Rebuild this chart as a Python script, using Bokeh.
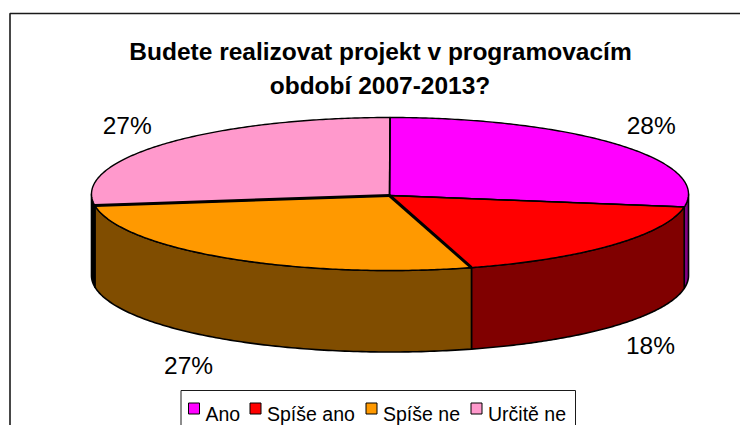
import numpy as np
from bokeh.core.properties import value
from bokeh.embed import file_html
from bokeh.models import ColumnDataSource, Range1d
from bokeh.plotting import figure
from bokeh.resources import INLINE

title_lines = ["Budete realizovat projekt v programovacím", "období 2007-2013?"]
categories = ["Ano", "Spíše ano", "Spíše ne", "Určitě ne"]
shares = [27.7, 17.9, 27.0, 27.4]
top_colors = ["#FF00FF", "#FF0000", "#FF9900", "#FF99CC"]
wall_colors = ["#800080", "#800000", "#804D00", "#000000"]
radius_widths = [1.5, 3, 3, 1.5]  # line at the end of each slice

# layout in page pixels
CX, CY, RX, RY, DEPTH = 389.5, 193.5, 298.5, 76.5, 81.5
VX, VY = 389, 195
label_dx = [33, 38.4, -39.9, -36.4]
label_dy = [-18.9, 19.1, 25.6, -18.9]
legend_sw_x = [188, 249.5, 365.5, 470.5]
legend_tx_x = [205, 266.5, 382.5, 487.5]

p = figure(width=740, height=425, output_backend="svg", toolbar_location=None,
           x_range=Range1d(0, 740), y_range=Range1d(425, 0), min_border=0,
           outline_line_color=None, background_fill_color="white")
p.axis.visible = False
p.grid.visible = False

# chart frame
p.line([9.5, 9.5, 740], [425, 13, 13], line_color="#1a1a1a", line_width=1.6)

edges = np.cumsum([0] + shares) / sum(shares) * 2 * np.pi


def rim(t, drop=0.0):
    return CX + RX * np.sin(t), CY - RY * np.cos(t) + drop


# side walls (front half only)
for a0, a1, col in zip(edges[:-1], edges[1:], wall_colors):
    lo, hi = max(a0, np.pi / 2), min(a1, 3 * np.pi / 2)
    if hi <= lo:
        continue
    t = np.linspace(lo, hi, 120)
    x_top, y_top = rim(t)
    x_bot, y_bot = rim(t[::-1], DEPTH)
    p.patch(np.r_[x_top, x_bot], np.r_[y_top, y_bot], fill_color=col,
            line_color="black", line_width=1.6, line_join="round")

# top faces
for a0, a1, col in zip(edges[:-1], edges[1:], top_colors):
    t = np.linspace(a0, a1, 160)
    x, y = rim(t)
    p.patch(np.r_[VX, x], np.r_[VY, y], fill_color=col, line_color="black",
            line_width=1.4, line_join="round")

# slice borders drawn above the faces
for a, w in zip(edges[1:], radius_widths):
    x, y = rim(a)
    p.line([VX, x], [VY, y], line_color="black", line_width=w)

# title
p.text([380, 379.5], [51, 85], text=title_lines, text_font=value("Liberation Sans"),
       text_font_style="bold", text_font_size="24.5px", text_color="black",
       text_align="center", text_baseline="alphabetic")

# percent labels, anchored on the rim at each slice's middle
mids = (edges[:-1] + edges[1:]) / 2
lx, ly = rim(mids)
ly = ly + np.where(np.cos(mids) < 0, DEPTH, 0)
p.text(lx + np.array(label_dx), ly + np.array(label_dy),
       text=[f"{round(s)}%" for s in shares], text_font=value("Liberation Sans"),
       text_font_size="24.5px", text_color="black",
       text_align="center", text_baseline="middle")

# legend
p.line([180.5, 180.5, 575, 575], [425, 390, 390, 425], line_color="#1a1a1a", line_width=1)
leg = ColumnDataSource(dict(x=[v + 5.5 for v in legend_sw_x], y=[408] * 4, c=top_colors))
p.rect("x", "y", width=11, height=11, fill_color="c", line_color="black", line_width=1, source=leg)
p.text(legend_tx_x, [413] * 4, text=categories, text_font=value("Liberation Sans"),
       text_font_size="19.5px", text_color="black", text_align="left",
       text_baseline="alphabetic")

open("out.html", "w").write(file_html(p, INLINE))
